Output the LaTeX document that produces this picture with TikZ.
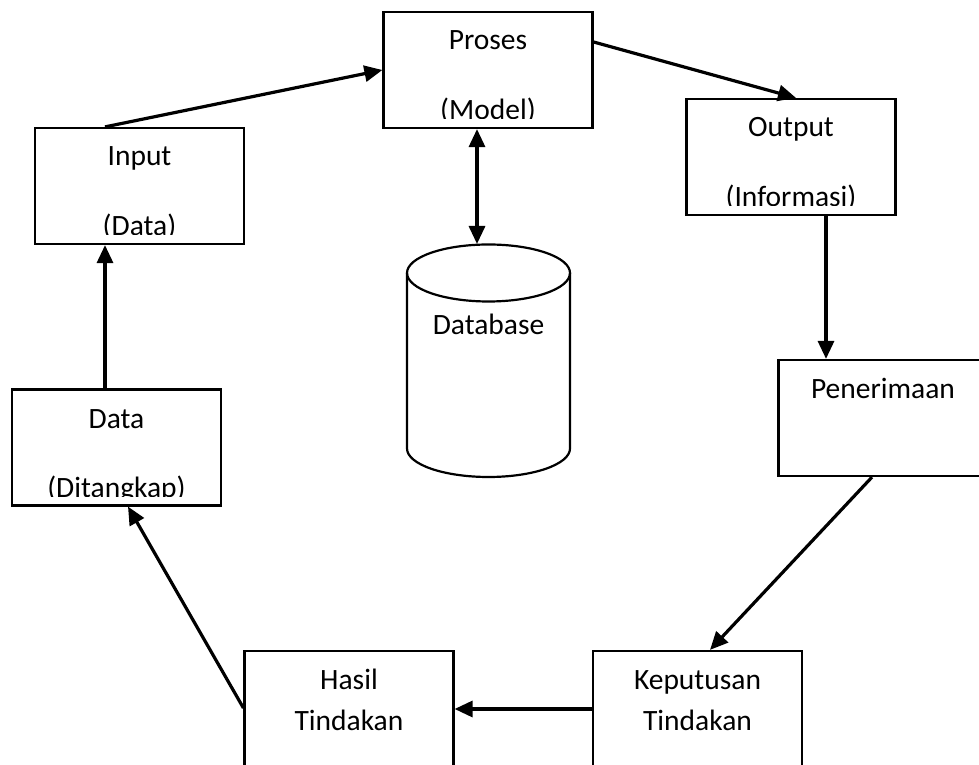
\documentclass[tikz,border=0pt]{standalone}
\usepackage{fontspec}
\setmainfont{Carlito}
\usetikzlibrary{arrows,arrows.meta}
\usetikzlibrary{calc}
\definecolor{garis}{RGB}{0,0,0}

\tikzset{
    kotak/.style={draw=garis, line width=2.2pt, minimum width=209pt, minimum height=116pt, inner sep=0pt},
    tulisan/.style={font=\fontsize{29.5}{36}\selectfont, anchor=base, inner sep=0pt},
    panah/.style={garis, line width=3.2pt, -{Triangle[length=18pt,width=16pt]}},
    panahdua/.style={garis, line width=3.2pt, {Triangle[length=18pt,width=16pt]}-{Triangle[length=18pt,width=16pt]}}
}

\begin{document}
\begin{tikzpicture}[x=1pt, y=1pt]

    \useasboundingbox (0,0) rectangle (979,765);

    % kotak-kotak
    \node[kotak] (proses) at (488,695) {};
    \node[kotak] (input) at (139.5,579) {};
    \node[kotak] (output) at (791,608) {};
    \node[kotak] (terima) at (883,347) {};
    \node[kotak] (data) at (116.5,317.5) {};
    \node[kotak] (hasil) at (349,56) {};
    \node[kotak] (putus) at (697.5,56) {};

    % database
    \coordinate (dbtop) at (488.5,521);
    \draw[line width=2.2pt] (488.5,492) ellipse (81.5 and 28.5);
    \draw[line width=2.2pt] (407,492) -- (407,316.5) arc (180:360:81.5 and 28.5) -- (570,492);
    \node[tulisan] (db) at (488.5,430) {Database};

    % teks
    \node[tulisan] at ([yshift=-39pt]proses.north) {Proses};
    \node[tulisan] at ([yshift=-39pt]input.north) {Input};
    \node[tulisan] at ([yshift=-39pt]output.north) {Output};
    \node[tulisan] at ([yshift=-40pt]terima.north) {Penerimaan};
    \node[tulisan] at ([yshift=-40pt]data.north) {Data};
    \node[tulisan] at ([yshift=-40pt]hasil.north) {Hasil};
    \node[tulisan] at ([yshift=-81pt]hasil.north) {Tindakan};
    \node[tulisan] at ([yshift=-40pt]putus.north) {Keputusan};
    \node[tulisan] at ([yshift=-81pt]putus.north) {Tindakan};

    % baris kedua terpotong di bawah
    \foreach \k/\t in {proses/(Model), input/(Data), output/(Informasi), data/(Ditangkap)} {
        \begin{scope}
            \clip ([yshift=10.5pt]\k.south west) rectangle (\k.north east);
            \node[tulisan] at ([yshift=-109pt]\k.north) {\t};
        \end{scope}
    }

    % panah
    \draw[panah] ([xshift=-34.5pt]input.north) -- (proses.west);
    \draw[panah] ([yshift=28pt]proses.east) -- ([xshift=5pt]output.north);
    \draw[panahdua] ([xshift=-11pt]proses.south) -- ([xshift=-11.5pt]dbtop);
    \draw[panah] ([xshift=35pt]output.south) -- ([xshift=35pt]output.south |- terima.north);
    \draw[panah] ([xshift=-11pt]terima.south) -- ([xshift=12.5pt]putus.north);
    \draw[panah] (putus.west) -- (hasil.east);
    \draw[panah] ([yshift=1pt]hasil.west) -- ([xshift=11.5pt]data.south);
    \draw[panah] ([xshift=-11.5pt]data.north) -- ([xshift=-11.5pt]data.north |- input.south);

\end{tikzpicture}
\end{document}
